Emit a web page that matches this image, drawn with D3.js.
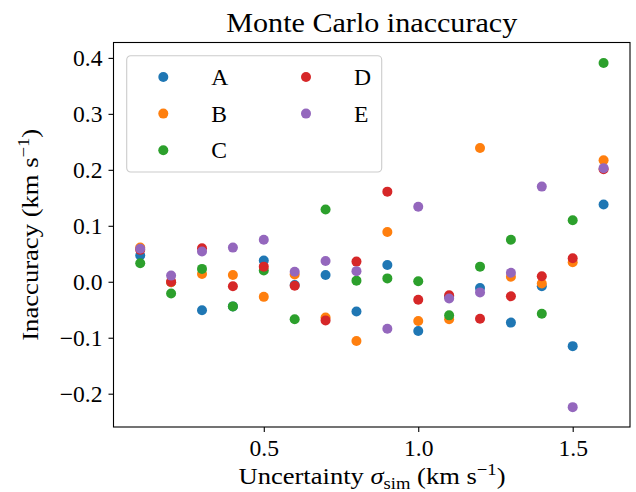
<!DOCTYPE html>
<html>
<head>
<meta charset="utf-8">
<script src="https://cdn.jsdelivr.net/npm/d3@7"></script>
<style>
body{margin:0;background:#fff;}
text{font-family:"Liberation Serif","DejaVu Serif",serif;fill:#000;}
.axis path,.axis line{stroke:#000;stroke-width:1.1;}
.axis text{font-size:23.6px;}
</style>
</head>
<body>
<div id="chart"></div>
<script>
// sigma_sim values (km/s)
var sigmas=[0.1,0.2,0.3,0.4,0.5,0.6,0.7,0.8,0.9,1.0,1.1,1.2,1.3,1.4,1.5,1.6];
var seriesNames=['A','B','C','D','E'];
var seriesColors=['#1f77b4','#ff7f0e','#2ca02c','#d62728','#9467bd'];
var valuesA=[0.047,-0.001,-0.051,-0.044,0.038,-0.006,0.012,-0.053,0.030,-0.088,-0.027,-0.011,-0.073,-0.008,-0.115,0.138];
var valuesB=[0.061,-0.001,0.014,0.012,-0.027,0.013,-0.064,-0.106,0.089,-0.070,-0.067,0.239,0.009,-0.003,0.035,0.217];
var valuesC=[0.033,-0.021,0.023,-0.044,0.020,-0.067,0.129,0.002,0.006,0.001,-0.060,0.027,0.075,-0.057,0.110,0.391];
var valuesD=[0.057,0.000,0.060,-0.008,0.027,-0.007,-0.069,0.036,0.161,-0.032,-0.024,-0.066,-0.026,0.010,0.042,0.201];
var valuesE=[0.059,0.011,0.054,0.061,0.075,0.018,0.037,0.019,-0.084,0.134,-0.030,-0.019,0.016,0.170,-0.224,0.203];
var xTicks=[0.5,1.0,1.5];
var yTicks=[-0.2,-0.1,0.0,0.1,0.2,0.3,0.4];

var allValues=[valuesA,valuesB,valuesC,valuesD,valuesE];

var margin={left:113.5,right:6,top:42.5,bottom:65};
var width=636-margin.left-margin.right;
var height=492-margin.top-margin.bottom;

var svgRoot=d3.select('#chart')
    .append('svg')
    .attr('width',636)
    .attr('height',492);
var svg=svgRoot.append('g')
    .attr('transform','translate('+margin.left+','+margin.top+')');

var x=d3.scaleLinear()
    .domain([0.0135,1.6855])
    .range([0,width]);
var y=d3.scaleLinear()
    .domain([-0.2595,0.4275])
    .range([height,0]);

function fmt(d){
    var s=d3.format('.1f')(Math.abs(d));
    return (d<0?'\u2212':'')+s;
}

// points, one series after another so later ones sit on top
allValues.forEach(function(vals,i){
    svg.append('g')
        .selectAll('circle')
        .data(vals)
        .enter()
        .append('circle')
        .attr('cx',function(d,j){ return x(sigmas[j]); })
        .attr('cy',function(d){ return y(d); })
        .attr('r',5)
        .attr('fill',seriesColors[i]);
});

// axes
svg.append('g')
    .attr('class','axis x-axis')
    .attr('transform','translate(0,'+height+')')
    .call(d3.axisBottom(x).tickValues(xTicks).tickSize(5).tickPadding(7).tickFormat(fmt))
    .call(function(g){ g.select('.domain').remove(); })
    .selectAll('text').attr('font-family',null).attr('font-size',null);
svg.append('g')
    .attr('class','axis y-axis')
    .call(d3.axisLeft(y).tickValues(yTicks).tickSize(5).tickPadding(6).tickFormat(fmt))
    .call(function(g){ g.select('.domain').remove(); })
    .selectAll('text').attr('font-family',null).attr('font-size',null);

// frame
svg.append('rect')
    .attr('x',0)
    .attr('y',0)
    .attr('width',width)
    .attr('height',height)
    .attr('fill','none')
    .attr('stroke','#000')
    .attr('stroke-width',1.1);

// title
svgRoot.append('text')
    .attr('x',margin.left+width/2)
    .attr('y',32)
    .attr('text-anchor','middle')
    .attr('font-size',28)
    .attr('textLength',291)
    .attr('lengthAdjust','spacingAndGlyphs')
    .text('Monte Carlo inaccuracy');

// x label
var xl=svgRoot.append('text')
    .attr('x',372)
    .attr('y',484)
    .attr('text-anchor','middle')
    .attr('font-size',23.6)
    .attr('textLength',267)
    .attr('lengthAdjust','spacingAndGlyphs');
xl.append('tspan').text('Uncertainty ');
xl.append('tspan').attr('font-style','italic').text('\u03c3');
xl.append('tspan').attr('font-size',16.5).attr('dy',4.5).text('sim');
xl.append('tspan').attr('dy',-4.5).text(' (km s');
xl.append('tspan').attr('font-size',16.5).attr('dy',-9.5).text('\u22121');
xl.append('tspan').attr('dy',9.5).text(')');

// y label
var yl=svgRoot.append('text')
    .attr('transform','translate(38,'+(margin.top+height/2)+') rotate(-90)')
    .attr('text-anchor','middle')
    .attr('font-size',23.6)
    .attr('textLength',212)
    .attr('lengthAdjust','spacingAndGlyphs');
yl.append('tspan').text('Inaccuracy (km s');
yl.append('tspan').attr('font-size',16.5).attr('dy',-9.5).text('\u22121');
yl.append('tspan').attr('dy',9.5).text(')');

// legend
var legend=svgRoot.append('g')
    .attr('transform','translate(126.7,55.7)');
legend.append('rect')
    .attr('width',255)
    .attr('height',116.3)
    .attr('rx',4)
    .attr('fill','#fff')
    .attr('fill-opacity',0.8)
    .attr('stroke','#cccccc')
    .attr('stroke-width',1.1);
var item=legend.selectAll('.item')
    .data(seriesNames)
    .enter()
    .append('g')
    .attr('class','item')
    .attr('transform',function(d,i){
        var col=i<3?0:1, row=i<3?i:i-3;
        return 'translate('+(36.6+col*142.7)+','+(21.3+row*36.6)+')';
    });
item.append('circle')
    .attr('r',5)
    .attr('fill',function(d,i){ return seriesColors[i]; });
item.append('text')
    .attr('x',48)
    .attr('y',8)
    .attr('font-size',23.6)
    .text(function(d){ return d; });
</script>
</body>
</html>
